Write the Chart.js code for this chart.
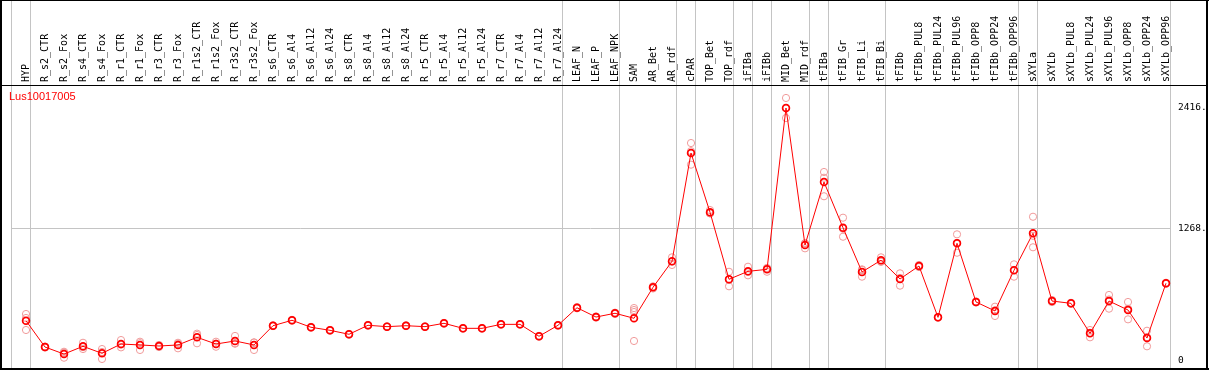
<!DOCTYPE html>
<html>
<head>
<meta charset="utf-8">
<title>Lus10017005</title>
<script src="https://cdn.jsdelivr.net/npm/chart.js"></script>
<style>
body { margin: 0; background: #fff; }
canvas { display: block; }
</style>
</head>
<body>
<canvas id="chart" width="1209" height="370"></canvas>
<script>
const geneName = "Lus10017005";

const categories = [
  "HYP", "R_s2_CTR", "R_s2_Fox", "R_s4_CTR", "R_s4_Fox", "R_r1_CTR", "R_r1_Fox",
  "R_r3_CTR", "R_r3_Fox", "R_r1s2_CTR", "R_r1s2_Fox", "R_r3s2_CTR", "R_r3s2_Fox",
  "R_s6_CTR", "R_s6_Al4", "R_s6_Al12", "R_s6_Al24", "R_s8_CTR", "R_s8_Al4",
  "R_s8_Al12", "R_s8_Al24", "R_r5_CTR", "R_r5_Al4", "R_r5_Al12", "R_r5_Al24",
  "R_r7_CTR", "R_r7_Al4", "R_r7_Al12", "R_r7_Al24", "LEAF_N", "LEAF_P", "LEAF_NPK",
  "SAM", "AR_Bet", "AR_rdf", "cPAR", "TOP_Bet", "TOP_rdf", "iFIBa", "iFIBb",
  "MID_Bet", "MID_rdf", "tFIBa", "tFIB_Gr", "tFIB_Li", "tFIB_Bi", "tFIBb",
  "tFIBb_PUL8", "tFIBb_PUL24", "tFIBb_PUL96", "tFIBb_OPP8", "tFIBb_OPP24", "tFIBb_OPP96",
  "sXYLa", "sXYLb", "sXYLb_PUL8", "sXYLb_PUL24", "sXYLb_PUL96", "sXYLb_OPP8",
  "sXYLb_OPP24", "sXYLb_OPP96"
];

const meanValues = [
  382, 130, 63, 137, 70, 159, 150, 140, 150, 223, 159, 188, 150,
  334, 386, 319, 290, 252, 338, 325, 334, 325, 357, 309, 309, 347, 347, 233, 338,
  506, 417, 453, 405, 701, 950, 1986, 1419, 778, 854, 873, 2416, 1106,
  1708, 1271, 848, 960, 781, 905, 414, 1122, 561, 475, 864,
  1218, 570, 548, 261, 570, 484, 216, 740
];

const replicateValues = [
  [446, 408, 293], [125, 135, 130], [85, 28, 76], [171, 111, 129], [111, 16, 83],
  [197, 127, 153], [181, 102, 167], [130, 150, 140], [171, 118, 161], [245, 166, 258],
  [181, 133, 163], [236, 166, 162], [175, 102, 173],
  [330, 338, 334], [382, 390, 386], [315, 323, 319], [286, 294, 290], [248, 256, 252],
  [334, 342, 338], [321, 329, 325], [330, 338, 334], [321, 329, 325], [353, 361, 357],
  [305, 313, 309], [305, 313, 309], [343, 351, 347], [343, 351, 347], [229, 237, 233],
  [334, 342, 338],
  [500, 512, 506], [411, 423, 417], [447, 459, 453], [503, 484, 465, 188],
  [690, 711, 702], [988, 915, 947], [2081, 1874, 2003], [1440, 1409, 1408],
  [850, 711, 773], [898, 816, 848], [883, 850, 886], [2512, 2320, 2416],
  [1122, 1074, 1122], [1804, 1749, 1572], [1367, 1185, 1261], [873, 803, 868],
  [988, 945, 947], [835, 717, 791], [895, 915, 905], [410, 418, 414],
  [1208, 1032, 1126], [556, 566, 561], [516, 427, 482], [921, 803, 868],
  [1376, 1084, 1194], [560, 580, 570], [543, 553, 548], [293, 223, 267],
  [628, 497, 585], [561, 395, 496], [286, 137, 225], [735, 745, 740]
];

// group separators, given as "before category k"
const groupBreaks = [0, 1, 29, 32, 35, 36, 38, 39, 40, 42, 43, 46, 53, 54, 61];
const yTicks = [0, 1268, 2416];
const yGridValue = 1268;

const cellShift = 0.79;

const meanPoints = meanValues.map((v, i) => ({ x: i, y: v }));
const repPoints = [];
replicateValues.forEach((reps, i) => reps.forEach((v) => repPoints.push({ x: i, y: v })));

const framePlugin = {
  id: "frame",
  beforeDraw(chart) {
    const ctx = chart.ctx;
    const xs = chart.scales.x;
    ctx.save();
    ctx.fillStyle = "#c4c4c4";
    groupBreaks.forEach((k) => {
      const px = Math.round(xs.getPixelForValue(k - cellShift));
      ctx.fillRect(px, 0, 1, chart.height);
    });
    ctx.restore();
  },
  afterDraw(chart) {
    const ctx = chart.ctx;
    const area = chart.chartArea;
    ctx.save();
    ctx.fillStyle = "#000";
    ctx.fillRect(0, 0, 2, chart.height);
    ctx.fillRect(0, 0, chart.width, 1);
    ctx.fillRect(0, chart.height - 2, chart.width, 2);
    ctx.fillRect(chart.width - 3, 0, 2, chart.height);
    ctx.fillRect(0, area.top, chart.width - 2, 1);
    ctx.fillStyle = "#ff0000";
    ctx.font = "11px 'Liberation Sans', Arial, sans-serif";
    ctx.textBaseline = "middle";
    ctx.fillText(geneName, 9, area.top + 12);
    ctx.restore();
  }
};

const config = {
  type: "line",
  data: {
    datasets: [
      {
        label: geneName,
        data: meanPoints,
        borderColor: "#ff0000",
        borderWidth: 1,
        pointStyle: "circle",
        pointRadius: 3.4,
        pointBorderWidth: 1.7,
        pointBorderColor: "#ff0000",
        pointBackgroundColor: "rgba(0,0,0,0)",
        tension: 0,
        clip: false,
        order: 1
      },
      {
        label: "replicates",
        data: repPoints,
        showLine: false,
        pointStyle: "circle",
        pointRadius: 3.6,
        pointBorderWidth: 1,
        pointBorderColor: "#f09a9a",
        pointBackgroundColor: "rgba(0,0,0,0)",
        clip: false,
        order: 2
      }
    ]
  },
  options: {
    responsive: false,
    animation: false,
    events: [],
    layout: { padding: { left: 11, top: 0, right: 0, bottom: 1 } },
    plugins: {
      legend: { display: false },
      tooltip: { enabled: false },
      title: { display: false }
    },
    scales: {
      x: {
        type: "linear",
        position: "top",
        min: -cellShift,
        max: categories.length - cellShift,
        afterBuildTicks: (s) => {
          s.ticks = categories.map((c, i) => ({ value: i }));
        },
        afterFit: (s) => {
          s.height = 85;
        },
        grid: { display: false, drawTicks: false },
        border: { display: false },
        ticks: {
          autoSkip: false,
          minRotation: 90,
          maxRotation: 90,
          padding: 3,
          labelOffset: 12,
          color: "#000",
          font: { family: "'DejaVu Sans Mono', monospace", size: 10 },
          callback: (v) => categories[v]
        }
      },
      y: {
        type: "linear",
        position: "right",
        min: -35,
        max: 2636,
        afterBuildTicks: (s) => {
          s.ticks = yTicks.map((v) => ({ value: v }));
        },
        afterFit: (s) => {
          s.width = 39;
          s.paddingTop = 0;
          s.paddingBottom = 0;
        },
        grid: {
          drawTicks: false,
          color: (c) => (c.tick && c.tick.value === yGridValue ? "#c4c4c4" : "rgba(0,0,0,0)")
        },
        border: { display: false },
        ticks: {
          padding: 8,
          color: "#000",
          font: { family: "'DejaVu Sans Mono', monospace", size: 9.5 },
          callback: (v) => (v === 0 ? "0" : v + ".")
        }
      }
    }
  },
  plugins: [framePlugin]
};

const ctx = document.getElementById("chart").getContext("2d");
const chart = new Chart(ctx, config);
</script>
</body>
</html>
